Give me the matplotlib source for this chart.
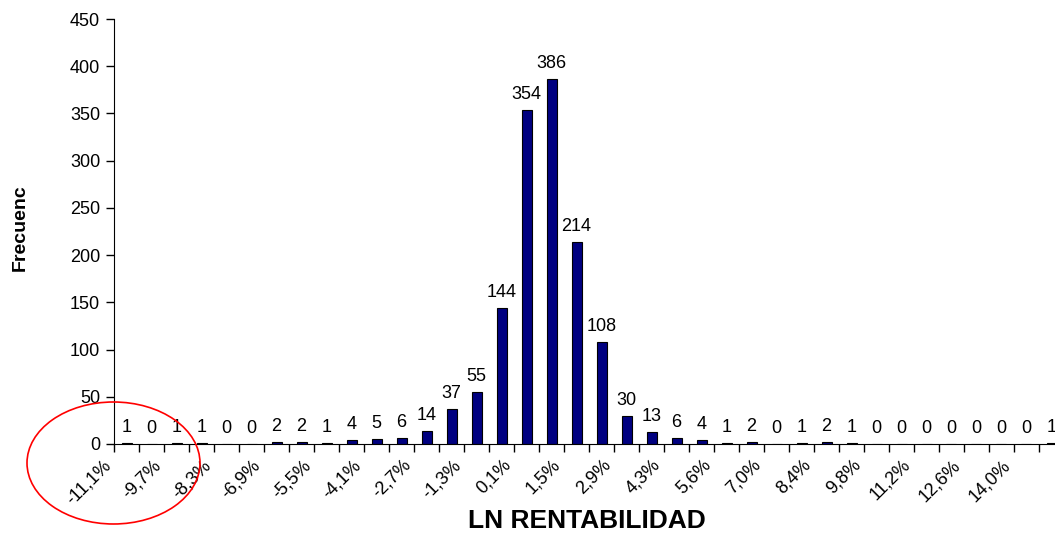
import numpy as np
import matplotlib
matplotlib.use("Agg")
import matplotlib.pyplot as plt
from matplotlib.patches import Ellipse

plt.rcParams['font.family'] = ['Liberation Sans', 'DejaVu Sans']

# frequency of each return class (38 classes)
frecuencias = [1, 0, 1, 1, 0, 0, 2, 2, 1, 4, 5, 6, 14, 37, 55, 144, 354, 386,
               214, 108, 30, 13, 6, 4, 1, 2, 0, 1, 2, 1, 0, 0, 0, 0, 0, 0, 0, 1]
# labels shown on every second class
etiquetas = ['-11,1%', '-9,7%', '-8,3%', '-6,9%', '-5,5%', '-4,1%', '-2,7%',
             '-1,3%', '0,1%', '1,5%', '2,9%', '4,3%', '5,6%', '7,0%', '8,4%',
             '9,8%', '11,2%', '12,6%', '14,0%']

x = np.arange(len(frecuencias))

fig = plt.figure(figsize=(10.55, 5.35), dpi=100)
ax = fig.add_axes([114 / 1055, 91 / 535, 950 / 1055, 425 / 535])

ax.bar(x, frecuencias, width=0.4, color='#000080', edgecolor='black', linewidth=0.8)
for xi, v in zip(x, frecuencias):
    ax.annotate(str(v), (xi, v), xytext=(0, 5), textcoords='offset points',
                ha='center', va='bottom', fontsize=13)

ax.set_xlim(-0.5, len(frecuencias) - 0.5)
ax.set_ylim(0, 450)
ax.set_yticks(np.arange(0, 451, 50))
ax.tick_params(axis='y', labelsize=13, length=6, width=1, pad=4)

# class boundaries as minor ticks, labels hang from the boundary before each labelled class
ax.set_xticks(np.arange(len(frecuencias) + 1) - 0.5, minor=True)
ax.set_xticks(x[::2] - 0.5)
ax.set_xticklabels(etiquetas, rotation=45, ha='right', va='top', fontsize=13)
ax.tick_params(axis='x', which='both', length=6, width=1, pad=3)

for s in ['top', 'right']:
    ax.spines[s].set_visible(False)

ax.set_xlabel('LN RENTABILIDAD', fontsize=19, fontweight='bold', va='center')
ax.xaxis.set_label_coords(0.498, -0.18)
ax.set_ylabel('Frecuenc', fontsize=14, fontweight='bold', va='center')
ax.yaxis.set_label_coords(-0.099, 0.508)

# red ring around the left tail
elipse = Ellipse((113.5 / 1055, 1 - 463 / 535), 173 / 1055, 122 / 535,
                 transform=fig.transFigure, fill=False, edgecolor='red', linewidth=1.2)
fig.patches.append(elipse)

fig.savefig('out.png', dpi=100)
